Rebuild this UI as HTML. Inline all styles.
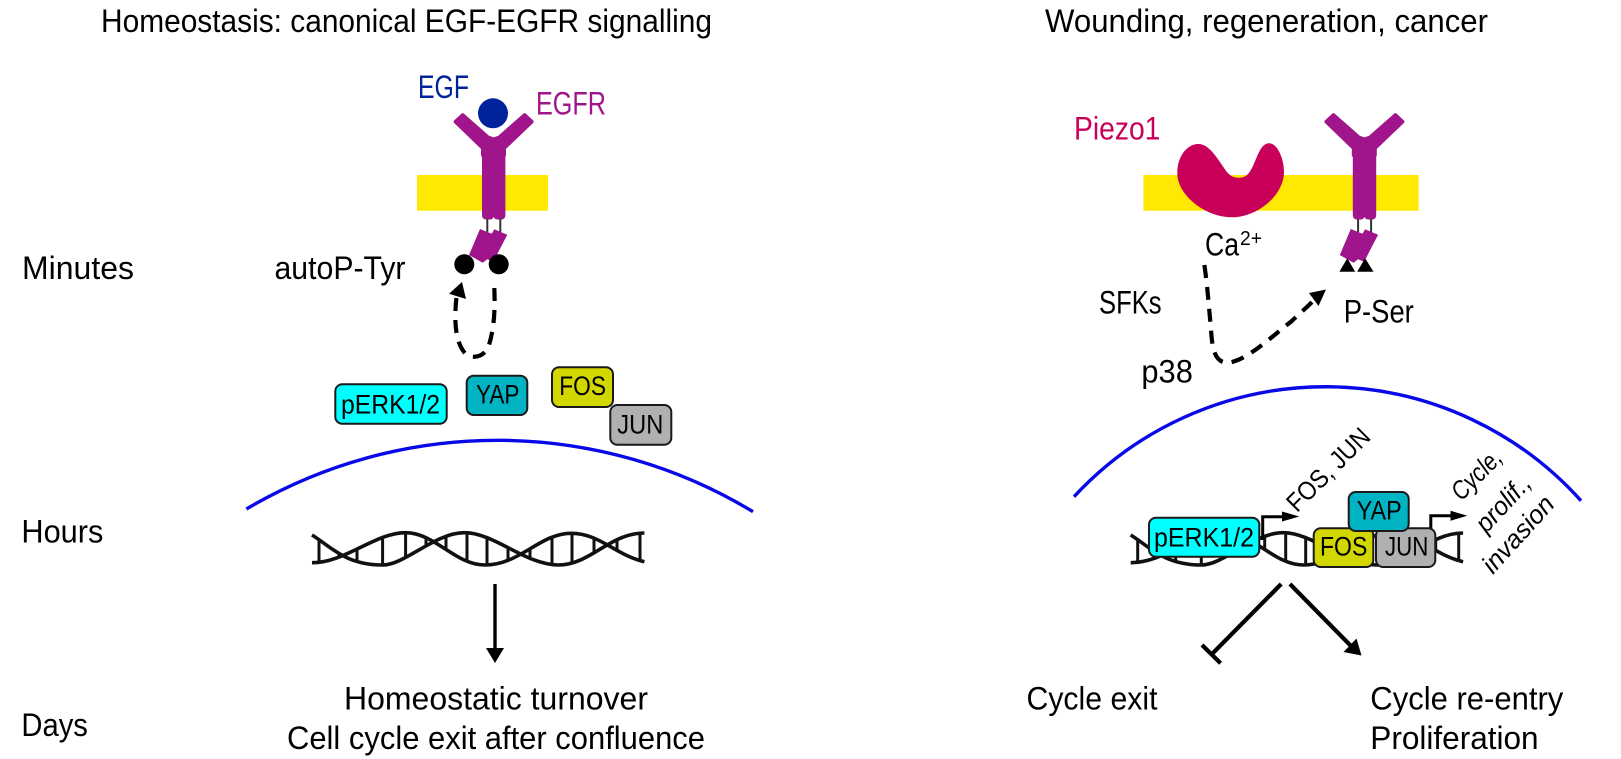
<!DOCTYPE html>
<html><head><meta charset="utf-8"><style>
html,body{margin:0;padding:0;background:#fff;width:1621px;height:759px;overflow:hidden}
svg{display:block}
text{font-family:"Liberation Sans",sans-serif;font-size:32.5px;fill:#000}
.b{font-size:27px}
.r{font-size:26px}
.i{font-size:26px;font-style:italic}
</style></head><body>
<svg width="1621" height="759" viewBox="0 0 1621 759" xmlns="http://www.w3.org/2000/svg">
<defs>
<g id="rec">
<polygon points="455.7,121.7 462.7,115.2 488,137.5 493.6,139.5 499.3,137.5 524.6,115.2 531.6,121.7 504,148 504,155 483,155 483,148" fill="#a0148c" stroke="#a0148c" stroke-width="4" stroke-linejoin="round"/>
<rect x="482" y="140" width="12" height="79.5" rx="4" fill="#a0148c"/>
<rect x="493.4" y="140" width="12" height="79.5" rx="4" fill="#a0148c"/>
<line x1="487.3" y1="219" x2="487.3" y2="232" stroke="#333" stroke-width="2"/>
<line x1="500.3" y1="219" x2="500.3" y2="232" stroke="#333" stroke-width="2"/>
<polygon points="480,229 491.7,233.7 494.3,229.3 507.3,234.7 493.3,261.7 487.3,259.3 482.7,262.7 469,255" fill="#a0148c"/>
</g>
<clipPath id="between"><path clip-rule="evenodd" d="M312,535 C330,546 345,565 382.6,565 C405,565 435,532.7 464.3,532.7 C495,532.7 525,565 558.7,565 C590,565 610,533 644.4,533 L644.4,600 L312,600 Z M312,562.7 C345,563 375,532.7 405.6,532.7 C435,532.7 455,565 484.7,565 C520,565 540,533.3 571,533.3 C600,533.3 615,555 644.4,561.7 L644.4,600 L312,600 Z"/></clipPath>
<g id="dna">
<g clip-path="url(#between)" stroke="#111" stroke-width="3" fill="none">
<path d="M319,525V570M339,525V570M357,525V570M382.6,525V570M405.6,525V570M426,525V570M446,525V570M467,525V570M487,525V570M508,525V570M530,525V570M552,525V570M572,525V570M594,525V570M617,525V570M640,525V570"/>
</g>
<path d="M312,535 C330,546 345,565 382.6,565 C405,565 435,532.7 464.3,532.7 C495,532.7 525,565 558.7,565 C590,565 610,533 644.4,533" fill="none" stroke="#111" stroke-width="3.6"/>
<path d="M312,562.7 C345,563 375,532.7 405.6,532.7 C435,532.7 455,565 484.7,565 C520,565 540,533.3 571,533.3 C600,533.3 615,555 644.4,561.7" fill="none" stroke="#111" stroke-width="3.6"/>
</g>
</defs>

<!-- titles -->
<text x="101" y="32" textLength="611" lengthAdjust="spacingAndGlyphs">Homeostasis: canonical EGF-EGFR signalling</text>
<text x="1045" y="32" textLength="443" lengthAdjust="spacingAndGlyphs">Wounding, regeneration, cancer</text>

<!-- time labels -->
<text x="22" y="279" textLength="112" lengthAdjust="spacingAndGlyphs">Minutes</text>
<text x="21.4" y="542.7" textLength="82" lengthAdjust="spacingAndGlyphs">Hours</text>
<text x="21.4" y="736" textLength="66.5" lengthAdjust="spacingAndGlyphs">Days</text>

<!-- left membrane -->
<rect x="417" y="175" width="131" height="35.7" fill="#ffe900"/>
<circle cx="493" cy="113.3" r="15" fill="#00239c"/>
<use href="#rec"/>
<circle cx="464.3" cy="264.3" r="10" fill="#000"/>
<circle cx="498.7" cy="264.3" r="10" fill="#000"/>
<text x="418" y="98" textLength="51" lengthAdjust="spacingAndGlyphs" style="fill:#00239c">EGF</text>
<text x="536" y="114.7" textLength="70" lengthAdjust="spacingAndGlyphs" style="fill:#a0148c">EGFR</text>
<text x="274.5" y="279" textLength="131" lengthAdjust="spacingAndGlyphs">autoP-Tyr</text>
<path d="M494.3,288 C495,305 495,325 489,345 C485,358 470,360 464,352 C455,340 454,320 456.5,297" fill="none" stroke="#000" stroke-width="4.2" stroke-dasharray="13 9"/>
<polygon points="462,282 449,293.8 466,299" fill="#000"/>

<!-- left boxes -->
<g stroke="#1a1a1a" stroke-width="2">
<rect x="335.3" y="384.3" width="111.4" height="39.4" rx="7" fill="#00ffff"/>
<rect x="466.7" y="375.7" width="60.6" height="39.3" rx="7" fill="#00b4c4"/>
<rect x="552" y="367.3" width="61" height="39.7" rx="7" fill="#d2d700"/>
<rect x="610.3" y="405" width="61" height="39.7" rx="7" fill="#b0b0b0"/>
</g>
<text class="b" x="341" y="413.3" textLength="99" lengthAdjust="spacingAndGlyphs">pERK1/2</text>
<text class="b" x="476" y="403.3" textLength="43.5" lengthAdjust="spacingAndGlyphs">YAP</text>
<text class="b" x="559.3" y="395" textLength="46.7" lengthAdjust="spacingAndGlyphs">FOS</text>
<text class="b" x="617.3" y="433.3" textLength="46" lengthAdjust="spacingAndGlyphs">JUN</text>

<!-- left nucleus -->
<path d="M246.4,509 A493,493 0 0 1 753,511.7" fill="none" stroke="#0808e8" stroke-width="3.4"/>
<use href="#dna"/>
<line x1="495" y1="584" x2="495" y2="650" stroke="#000" stroke-width="3.4"/>
<polygon points="486,648 504,648 495,663" fill="#000"/>
<text x="344" y="709.3" textLength="304" lengthAdjust="spacingAndGlyphs">Homeostatic turnover</text>
<text x="287" y="749" textLength="418" lengthAdjust="spacingAndGlyphs">Cell cycle exit after confluence</text>

<!-- right membrane -->
<rect x="1143.4" y="175" width="275.2" height="35.7" fill="#ffe900"/>
<path d="M1198.3,144 C1210,144 1218,160 1226.7,171.7 C1231,177 1235,177.7 1239.3,177.7 C1246,177.7 1249,174 1253,166 C1258,155 1261,143.3 1269.3,143.3 C1278,143.3 1284,160 1284,171.7 C1284,195 1258,217.3 1231.7,217.3 C1205,217.3 1177.3,195 1177.3,173.3 C1177.3,155 1188,144 1198.3,144 Z" fill="#c8005a"/>
<use href="#rec" transform="translate(870.8,0)"/>
<polygon points="1339.4,271.7 1347.3,258.3 1355.2,271.7" fill="#000"/>
<polygon points="1357.2,271.7 1365.1,258.3 1373.5,271.7" fill="#000"/>
<text x="1074" y="139.3" textLength="86.4" lengthAdjust="spacingAndGlyphs" style="fill:#c8005a">Piezo1</text>
<text x="1205" y="255.7" textLength="34" lengthAdjust="spacingAndGlyphs">Ca</text>
<text x="1240" y="245" textLength="22" lengthAdjust="spacingAndGlyphs" style="font-size:20px">2+</text>
<text x="1099" y="313.3" textLength="62.6" lengthAdjust="spacingAndGlyphs">SFKs</text>
<text x="1343.8" y="322.3" textLength="70" lengthAdjust="spacingAndGlyphs">P-Ser</text>
<text x="1141.4" y="382.3" textLength="51.5" lengthAdjust="spacingAndGlyphs">p38</text>
<path d="M1204.4,265 C1208,290 1209,310 1210.7,325 C1212,345 1213,362 1227,362.7 C1245,362 1270,338 1291,321.7 C1297,316 1303,311 1313,301" fill="none" stroke="#000" stroke-width="4.2" stroke-dasharray="13 9"/>
<polygon points="1326,289.5 1309,293 1318.5,306" fill="#000"/>

<!-- right nucleus -->
<path d="M1074,496.7 A343,343 0 0 1 1581,500.7" fill="none" stroke="#0808e8" stroke-width="3.4"/>
<use href="#dna" transform="translate(818.7,0)"/>
<path d="M1262.7,540V516.7H1284" fill="none" stroke="#000" stroke-width="3"/>
<polygon points="1282,511.5 1299.3,516.5 1282,521.5" fill="#000"/>
<path d="M1430.8,530V515.8H1452" fill="none" stroke="#000" stroke-width="3"/>
<polygon points="1450.5,510.8 1467.3,515.8 1450.5,520.8" fill="#000"/>
<g stroke="#1a1a1a" stroke-width="2">
<rect x="1149" y="517.7" width="110.3" height="39" rx="7" fill="#00ffff"/>
<rect x="1313.7" y="528.3" width="59.6" height="38.7" rx="7" fill="#d2d700"/>
<rect x="1376" y="528.3" width="59.3" height="38.7" rx="7" fill="#b0b0b0"/>
<rect x="1348.7" y="492" width="60" height="39" rx="7" fill="#00b4c4"/>
</g>
<text class="b" x="1154" y="546.7" textLength="100" lengthAdjust="spacingAndGlyphs">pERK1/2</text>
<text class="b" x="1356.7" y="519.3" textLength="45" lengthAdjust="spacingAndGlyphs">YAP</text>
<text class="b" x="1320" y="555.3" textLength="47.3" lengthAdjust="spacingAndGlyphs">FOS</text>
<text class="b" x="1385" y="555.3" textLength="43.3" lengthAdjust="spacingAndGlyphs">JUN</text>
<text class="r" transform="translate(1297,513.3) rotate(-45)" textLength="106" lengthAdjust="spacingAndGlyphs">FOS, JUN</text>
<text class="i" transform="translate(1461.4,501.7) rotate(-45)" textLength="60" lengthAdjust="spacingAndGlyphs">Cycle,</text>
<text class="i" transform="translate(1486.3,534) rotate(-47)" textLength="68" lengthAdjust="spacingAndGlyphs">prolif.,</text>
<text class="i" transform="translate(1493,575) rotate(-48)" textLength="94" lengthAdjust="spacingAndGlyphs">invasion</text>

<line x1="1281.2" y1="584" x2="1212" y2="654" stroke="#000" stroke-width="4.2"/>
<line x1="1202" y1="645" x2="1220.6" y2="663.3" stroke="#000" stroke-width="4.2"/>
<line x1="1289.9" y1="584" x2="1351" y2="646" stroke="#000" stroke-width="4.2"/>
<polygon points="1361.5,655.5 1343.5,652 1356.5,638.5" fill="#000"/>

<text x="1026.5" y="709.3" textLength="131" lengthAdjust="spacingAndGlyphs">Cycle exit</text>
<text x="1370.3" y="709.3" textLength="193" lengthAdjust="spacingAndGlyphs">Cycle re-entry</text>
<text x="1370.3" y="749" textLength="168.3" lengthAdjust="spacingAndGlyphs">Proliferation</text>
</svg>
</body></html>
